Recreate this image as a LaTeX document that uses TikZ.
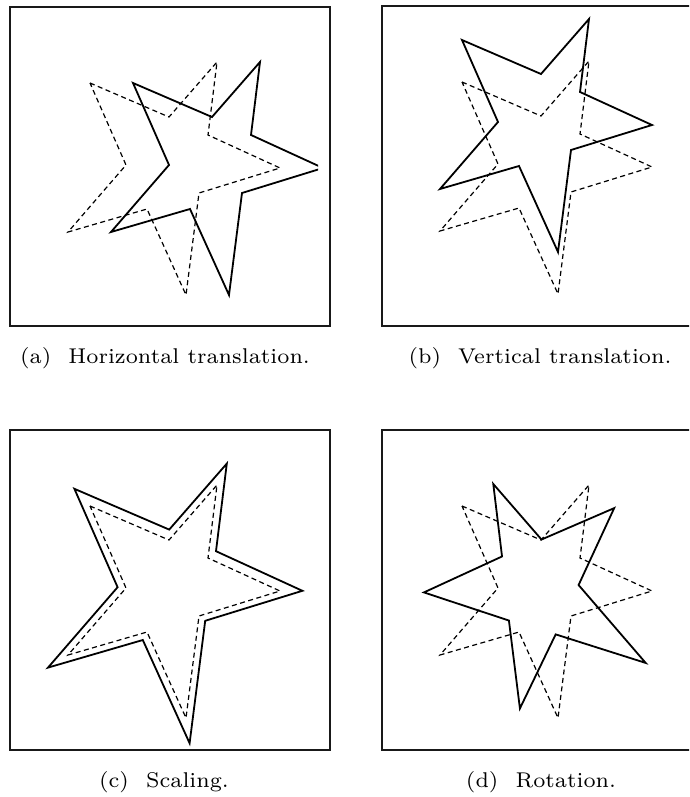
\documentclass[tikz,border=0pt]{standalone}
\usetikzlibrary{calc}
\newcommand{\capt}[1]{\scalebox{3.05}{\fontsize{7}{8.4}\selectfont #1}}
\newcommand{\starshape}{(80,76) -- (159,110) -- (207,55) -- (198,128) -- (270,161)
  -- (189,186) -- (176,288) -- (137,202) -- (58,225) -- (116,158) -- cycle}

\begin{document}
\begin{tikzpicture}[
  x=1pt, y=-1pt,
  frame/.style={line width=2.2pt, draw=black!90},
  ghost/.style={dash pattern=on 5pt off 3.5pt, line width=1.2pt},
  moved/.style={line width=1.8pt, line join=miter},
]
\useasboundingbox (0,0) rectangle (689,797);
\clip (0,0) rectangle (689,797);

% --- (a) horizontal translation ---
\begin{scope}[shift={(10,7)}]
  \draw[frame] (0,0) rectangle (320,319);
  \begin{scope}
    \clip (0,0) rectangle (308,319);
    \draw[ghost] \starshape;
    \draw[moved, shift={(43,0)}] \starshape;
  \end{scope}
\end{scope}

% --- (b) vertical translation ---
\begin{scope}[shift={(382,6)}]
  \draw[frame] (0,0) rectangle (320,320);
  \draw[ghost] \starshape;
  \draw[moved, shift={(0,-42)}] \starshape;
\end{scope}

% --- (c) scaling ---
\begin{scope}[shift={(10,430)}]
  \draw[frame] (0,0) rectangle (320,320);
  \draw[ghost] \starshape;
  \draw[moved, shift={(158,162)}, scale=1.2, shift={(-158,-162)}] \starshape;
\end{scope}

% --- (d) rotation ---
\begin{scope}[shift={(382,430)}]
  \draw[frame] (0,0) rectangle (320,320);
  \draw[ghost] \starshape;
  \draw[moved, rotate around={48:(158,162)}] \starshape;
\end{scope}

% --- captions ---
\node[anchor=base] (capa) at (165,363) {\capt{(a)\hspace{0.8em}Horizontal translation.}};
\node[anchor=base] (capb) at (540,363) {\capt{(b)\hspace{0.8em}Vertical translation.}};
\node[anchor=base] (capc) at (164,787) {\capt{(c)\hspace{0.8em}Scaling.}};
\node[anchor=base] (capd) at (541,787) {\capt{(d)\hspace{0.8em}Rotation.}};

\end{tikzpicture}
\end{document}
